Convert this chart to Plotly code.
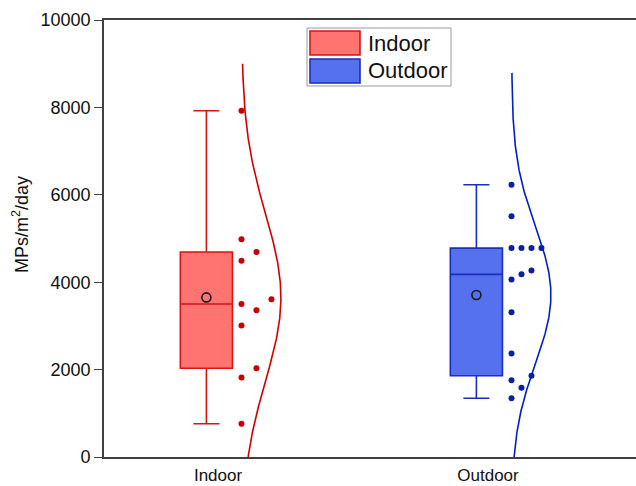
import numpy as np
import plotly.graph_objects as go

# ---------------- data ----------------
categories = ["Indoor", "Outdoor"]
indoor_values = [7925, 4980, 4690, 4490, 3610, 3500, 3360, 3010, 2030, 1820, 760]
outdoor_values = [6230, 5510, 4780, 4780, 4780, 4780, 4265, 4180, 4060, 3310,
                  2370, 1860, 1755, 1585, 1345]
curve_top = [9000, 8790]          # upper end of the drawn normal curves
y_ticks = [0, 2000, 4000, 6000, 8000, 10000]
y_tick_labels = ["0", "2000", "4000", "6000", "8000", "10000"]

# ---------------- styles ----------------
fill_colors = ["#FF7370", "#5571EE"]
line_colors = ["#D81515", "#1A2DBE"]
dot_colors = ["#C80000", "#0A1EA6"]
curve_colors = ["#D00000", "#0020C0"]

W, H = 636, 486
ML, MR, MT, MB = 104, 0, 20, 29
PX_PER_UNIT = 270.0
X_FIRST_PX = 218.0
x_lo = 1 - (X_FIRST_PX - ML) / PX_PER_UNIT
x_hi = 1 + (W - MR - X_FIRST_PX) / PX_PER_UNIT

box_off = -0.043
box_w = 0.193
dot_off = 0.087
swarm_span = 0.111
curve_off = 0.088
curve_amp = 0.145


def swarm_columns(vals, thresh=400.0):
    order = np.argsort(vals)
    cols = np.zeros(len(vals), dtype=int)
    placed = {}
    for i in order:
        v = vals[i]
        k = 0
        while any(abs(v - w) < thresh for w in placed.get(k, [])):
            k += 1
        placed.setdefault(k, []).append(v)
        cols[i] = k
    return cols


fig = go.Figure()
groups = [indoor_values, outdoor_values]
for gi, (name, vals) in enumerate(zip(categories, groups)):
    pos = gi + 1
    arr = np.array(vals, dtype=float)
    # box
    fig.add_trace(go.Box(
        y=arr, x0=pos + box_off, name=name, width=box_w,
        quartilemethod="exclusive", boxpoints=False, whiskerwidth=0.5,
        fillcolor=fill_colors[gi], line=dict(color=line_colors[gi], width=1.6),
        showlegend=False, hoverinfo="skip"))
    # mean marker
    fig.add_trace(go.Scatter(
        x=[pos + box_off], y=[arr.mean()], mode="markers",
        marker=dict(symbol="circle-open", size=9, color="#1a1a1a",
                    line=dict(width=1.6, color="#1a1a1a")),
        showlegend=False, hoverinfo="skip"))
    # swarm points
    cols = swarm_columns(arr)
    step = swarm_span / max(cols.max(), 1)
    fig.add_trace(go.Scatter(
        x=pos + dot_off + cols * step, y=arr, mode="markers",
        marker=dict(size=6, color=dot_colors[gi]),
        showlegend=False, hoverinfo="skip"))
    # half normal curve
    mu, sd = arr.mean(), arr.std(ddof=1)
    yy = np.linspace(0, curve_top[gi], 300)
    xx = pos + curve_off + curve_amp * np.exp(-0.5 * ((yy - mu) / sd) ** 2)
    fig.add_trace(go.Scatter(
        x=xx, y=yy, mode="lines", line=dict(color=curve_colors[gi], width=1.6),
        showlegend=False, hoverinfo="skip"))

FONT = "Arial, Liberation Sans, sans-serif"
pw = W - ML - MR
ph = H - MT - MB


def px2paper_x(px):
    return (px - ML) / pw


def px2paper_y(py):
    return (H - MB - py) / ph


shapes = []
annotations = []
# legend frame
shapes.append(dict(type="rect", xref="paper", yref="paper",
                   x0=px2paper_x(307), x1=px2paper_x(451),
                   y0=px2paper_y(86), y1=px2paper_y(28),
                   line=dict(color="#9a9a9a", width=1), fillcolor="white", layer="above"))
for gi, name in enumerate(categories):
    top = 31 + gi * 28
    shapes.append(dict(type="rect", xref="paper", yref="paper",
                       x0=px2paper_x(310), x1=px2paper_x(360),
                       y0=px2paper_y(top + 24), y1=px2paper_y(top),
                       line=dict(color=line_colors[gi], width=1.6),
                       fillcolor=fill_colors[gi], layer="above"))
    annotations.append(dict(xref="paper", yref="paper",
                            x=px2paper_x(366), y=px2paper_y(top + 12),
                            xanchor="left", yanchor="middle", showarrow=False,
                            text=name, font=dict(family=FONT, size=22, color="#111")))
# y title
annotations.append(dict(xref="paper", yref="paper",
                        x=px2paper_x(20), y=px2paper_y(225),
                        xanchor="center", yanchor="middle", showarrow=False,
                        textangle=-90, text="MPs/m<sup>2</sup>/day",
                        font=dict(family=FONT, size=18, color="#111")))

fig.update_layout(
    width=W, height=H,
    margin=dict(l=ML, r=MR, t=MT, b=MB, pad=0, autoexpand=False),
    paper_bgcolor="white", plot_bgcolor="white",
    font=dict(family=FONT, size=18, color="#111"),
    shapes=shapes, annotations=annotations,
    xaxis=dict(range=[x_lo, x_hi], tickmode="array", tickvals=[1, 2],
               ticktext=categories, ticks="", showgrid=False, zeroline=False,
               showline=True, mirror=True, linecolor="#404040", linewidth=1.6,
               tickfont=dict(size=17), ticklabelstandoff=2, automargin=False),
    yaxis=dict(range=[0, 10000], tickmode="array", tickvals=y_ticks,
               ticktext=y_tick_labels,
               ticks="outside", ticklen=8, tickwidth=1.4, tickcolor="#404040",
               showgrid=False, zeroline=False, showline=True, mirror=False,
               linecolor="#404040", linewidth=1.6, tickfont=dict(size=18),
               ticklabelstandoff=0, automargin=False),
)

fig.write_html("out.html")
